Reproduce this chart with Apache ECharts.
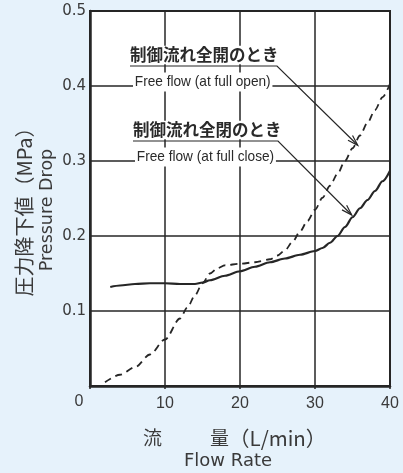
<!DOCTYPE html>
<html>
<head>
<meta charset="utf-8">
<script src="https://cdn.jsdelivr.net/npm/echarts@6/dist/echarts.min.js"></script>
<style>
html,body{margin:0;padding:0;background:#e6f2fb;}
#main{width:403px;height:473px;}
</style>
</head>
<body>
<div id="main"></div>
<script>
// Data
var xTicks = [0, 10, 20, 30, 40];
var yTicks = [0.1, 0.2, 0.3, 0.4, 0.5];
var openFlowX = [2, 4, 6, 8, 10, 12, 13, 14, 15, 16, 17, 18, 20, 22, 24, 25, 26, 27, 28, 29, 30, 31, 32, 33, 34, 35, 36, 37, 38, 39, 40];
var openFlowY = [0.005, 0.015, 0.025, 0.042, 0.062, 0.09, 0.105, 0.121, 0.137, 0.150, 0.157, 0.161, 0.163, 0.165, 0.169, 0.174, 0.181, 0.192, 0.206, 0.220, 0.235, 0.251, 0.267, 0.283, 0.300, 0.317, 0.334, 0.351, 0.368, 0.385, 0.403];
var closeFlowX = [2.7, 4, 6, 8, 10, 12, 14, 15, 16, 18, 20, 22, 24, 26, 28, 30, 31, 32, 33, 34, 35, 36, 37, 38, 39, 40];
var closeFlowY = [0.132, 0.134, 0.136, 0.137, 0.137, 0.136, 0.136, 0.138, 0.141, 0.147, 0.153, 0.159, 0.165, 0.170, 0.175, 0.180, 0.184, 0.191, 0.200, 0.212, 0.225, 0.237, 0.248, 0.260, 0.273, 0.287];
var labelOpenJa = '制御流れ全開のとき';
var labelOpenEn = 'Free flow (at full open)';
var labelCloseJa = '制御流れ全閉のとき';
var labelCloseEn = 'Free flow (at full close)';
var yNameJa = '圧力降下値（MPa）';
var yNameEn = 'Pressure Drop';
var xNameJa1 = '流';
var xNameJa2 = '量';
var xNameJa3 = '（L/min）';
var xNameEn = 'Flow Rate';

function zip(xs, ys){ return xs.map(function(x,i){ return [x, ys[i]]; }); }

var chart = echarts.init(document.getElementById('main'), null, {renderer:'canvas'});
var ink = '#262626';
var txt = '#3a3a3a';

var option = {
  backgroundColor: '#e6f2fb',
  animation: false,
  grid: {left: 90, top: 11, width: 300, height: 375, show: true, backgroundColor: '#ffffff', borderColor: ink, borderWidth: 2},
  xAxis: {
    type: 'value', min: 0, max: 40, interval: 10,
    axisLine: {show: true, lineStyle: {color: ink, width: 2.5}},
    axisTick: {show: true, length: 3, lineStyle: {color: ink, width: 1.5}},
    splitLine: {show: true, lineStyle: {color: ink, width: 1.5}},
    axisLabel: {margin: 10, color: txt, fontFamily: 'Liberation Sans', fontSize: 16,
      formatter: function(v){ return v === 0 ? '' : String(v); }}
  },
  yAxis: {
    type: 'value', min: 0, max: 0.5, interval: 0.1,
    axisLine: {show: true, lineStyle: {color: ink, width: 2.5}},
    axisTick: {show: false},
    splitLine: {show: true, lineStyle: {color: ink, width: 1.5}},
    axisLabel: {margin: 4, color: txt, fontFamily: 'DejaVu Sans', fontSize: 15,
      formatter: function(v){ return v === 0 ? '' : v.toFixed(1); }}
  },
  series: [
    {type: 'line', data: zip(openFlowX, openFlowY), smooth: 0.3, smoothMonotone: 'x', showSymbol: false,
     lineStyle: {color: ink, width: 1.8, type: [7, 5]}, z: 3},
    {type: 'line', data: zip(closeFlowX, closeFlowY), smooth: 0.3, smoothMonotone: 'x', showSymbol: false,
     lineStyle: {color: ink, width: 2.2}, z: 3}
  ]
};
chart.setOption(option);

function arrowHead(tip, from){
  var dx = tip[0]-from[0], dy = tip[1]-from[1];
  var len = Math.sqrt(dx*dx+dy*dy); dx/=len; dy/=len;
  var L = 11, a = 0.3;
  var c = Math.cos(a), s = Math.sin(a);
  var b1 = [tip[0] - L*(dx*c - dy*s), tip[1] - L*(dy*c + dx*s)];
  var b2 = [tip[0] - L*(dx*c + dy*s), tip[1] - L*(dy*c - dx*s)];
  return {type:'polyline', shape:{points:[b1, tip, b2]}, style:{stroke: ink, lineWidth: 1.2, fill: null}, z: 10};
}

var openTip = chart.convertToPixel({gridIndex:0}, [35.7, 0.321]);
var closeTip = chart.convertToPixel({gridIndex:0}, [34.9, 0.228]);
var openBend = [277, 66];
var closeBend = [278, 141];

var graphics = [
  {type:'polyline', shape:{points:[[130,66], openBend, openTip]}, style:{stroke: ink, lineWidth: 1.2, fill:null}, z: 10},
  arrowHead(openTip, openBend),
  {type:'polyline', shape:{points:[[133,141], closeBend, closeTip]}, style:{stroke: ink, lineWidth: 1.2, fill:null}, z: 10},
  arrowHead(closeTip, closeBend),
  {type:'text', x: 130, y: 55, z: 11, style:{text: labelOpenJa, x:0, y:0, textAlign:'left', textVerticalAlign:'middle', align:'left', verticalAlign:'middle',
    font:'bold 16.5px "Noto Sans CJK JP"', fill: '#2a2a2a', backgroundColor:'#ffffff', padding:[1,0,1,0]}},
  {type:'text', x: 133, y: 82, scaleX: 0.91, z: 11, style:{text: labelOpenEn, x:0, y:0, textAlign:'left', textVerticalAlign:'middle', align:'left', verticalAlign:'middle',
    font:'15px "Liberation Sans"', fill: '#2a2a2a', backgroundColor:'#ffffff', padding:[2,2,2,2]}},
  {type:'text', x: 133, y: 130, z: 11, style:{text: labelCloseJa, x:0, y:0, textAlign:'left', textVerticalAlign:'middle', align:'left', verticalAlign:'middle',
    font:'bold 16.5px "Noto Sans CJK JP"', fill: '#2a2a2a', backgroundColor:'#ffffff', padding:[1,0,1,0]}},
  {type:'text', x: 135, y: 157, scaleX: 0.91, z: 11, style:{text: labelCloseEn, x:0, y:0, textAlign:'left', textVerticalAlign:'middle', align:'left', verticalAlign:'middle',
    font:'15px "Liberation Sans"', fill: '#2a2a2a', backgroundColor:'#ffffff', padding:[2,2,2,2]}},
  {type:'text', x: 79, y: 402, style:{text:'0', x:0, y:0, textAlign:'center', textVerticalAlign:'middle', align:'center', verticalAlign:'middle',
    font:'16px "Liberation Sans"', fill: txt}},
  {type:'text', x: 24, y: 207, rotation: Math.PI/2, style:{text: yNameJa, x:0, y:0, textAlign:'center', textVerticalAlign:'middle', align:'center', verticalAlign:'middle',
    font:'20px "Noto Sans CJK JP"', fill: txt}},
  {type:'text', x: 47, y: 210, rotation: Math.PI/2, style:{text: yNameEn, x:0, y:0, textAlign:'center', textVerticalAlign:'middle', align:'center', verticalAlign:'middle',
    font:'17.5px "DejaVu Sans"', fill: txt}},
  {type:'text', x: 143, y: 438, style:{text: xNameJa1, x:0, y:0, textAlign:'left', textVerticalAlign:'middle', align:'left', verticalAlign:'middle',
    font:'19px "Noto Sans CJK JP"', fill: txt}},
  {type:'text', x: 210, y: 438, style:{text: xNameJa2, x:0, y:0, textAlign:'left', textVerticalAlign:'middle', align:'left', verticalAlign:'middle',
    font:'19px "Noto Sans CJK JP"', fill: txt}},
  {type:'text', x: 229, y: 438, style:{text: xNameJa3, x:0, y:0, textAlign:'left', textVerticalAlign:'middle', align:'left', verticalAlign:'middle',
    font:'20.5px "Noto Sans CJK JP"', fill: txt}},
  {type:'text', x: 228, y: 461, style:{text: xNameEn, x:0, y:0, textAlign:'center', textVerticalAlign:'middle', align:'center', verticalAlign:'middle',
    font:'18px "DejaVu Sans"', fill: txt}}
];
chart.setOption({graphic: graphics});
</script>
</body>
</html>
